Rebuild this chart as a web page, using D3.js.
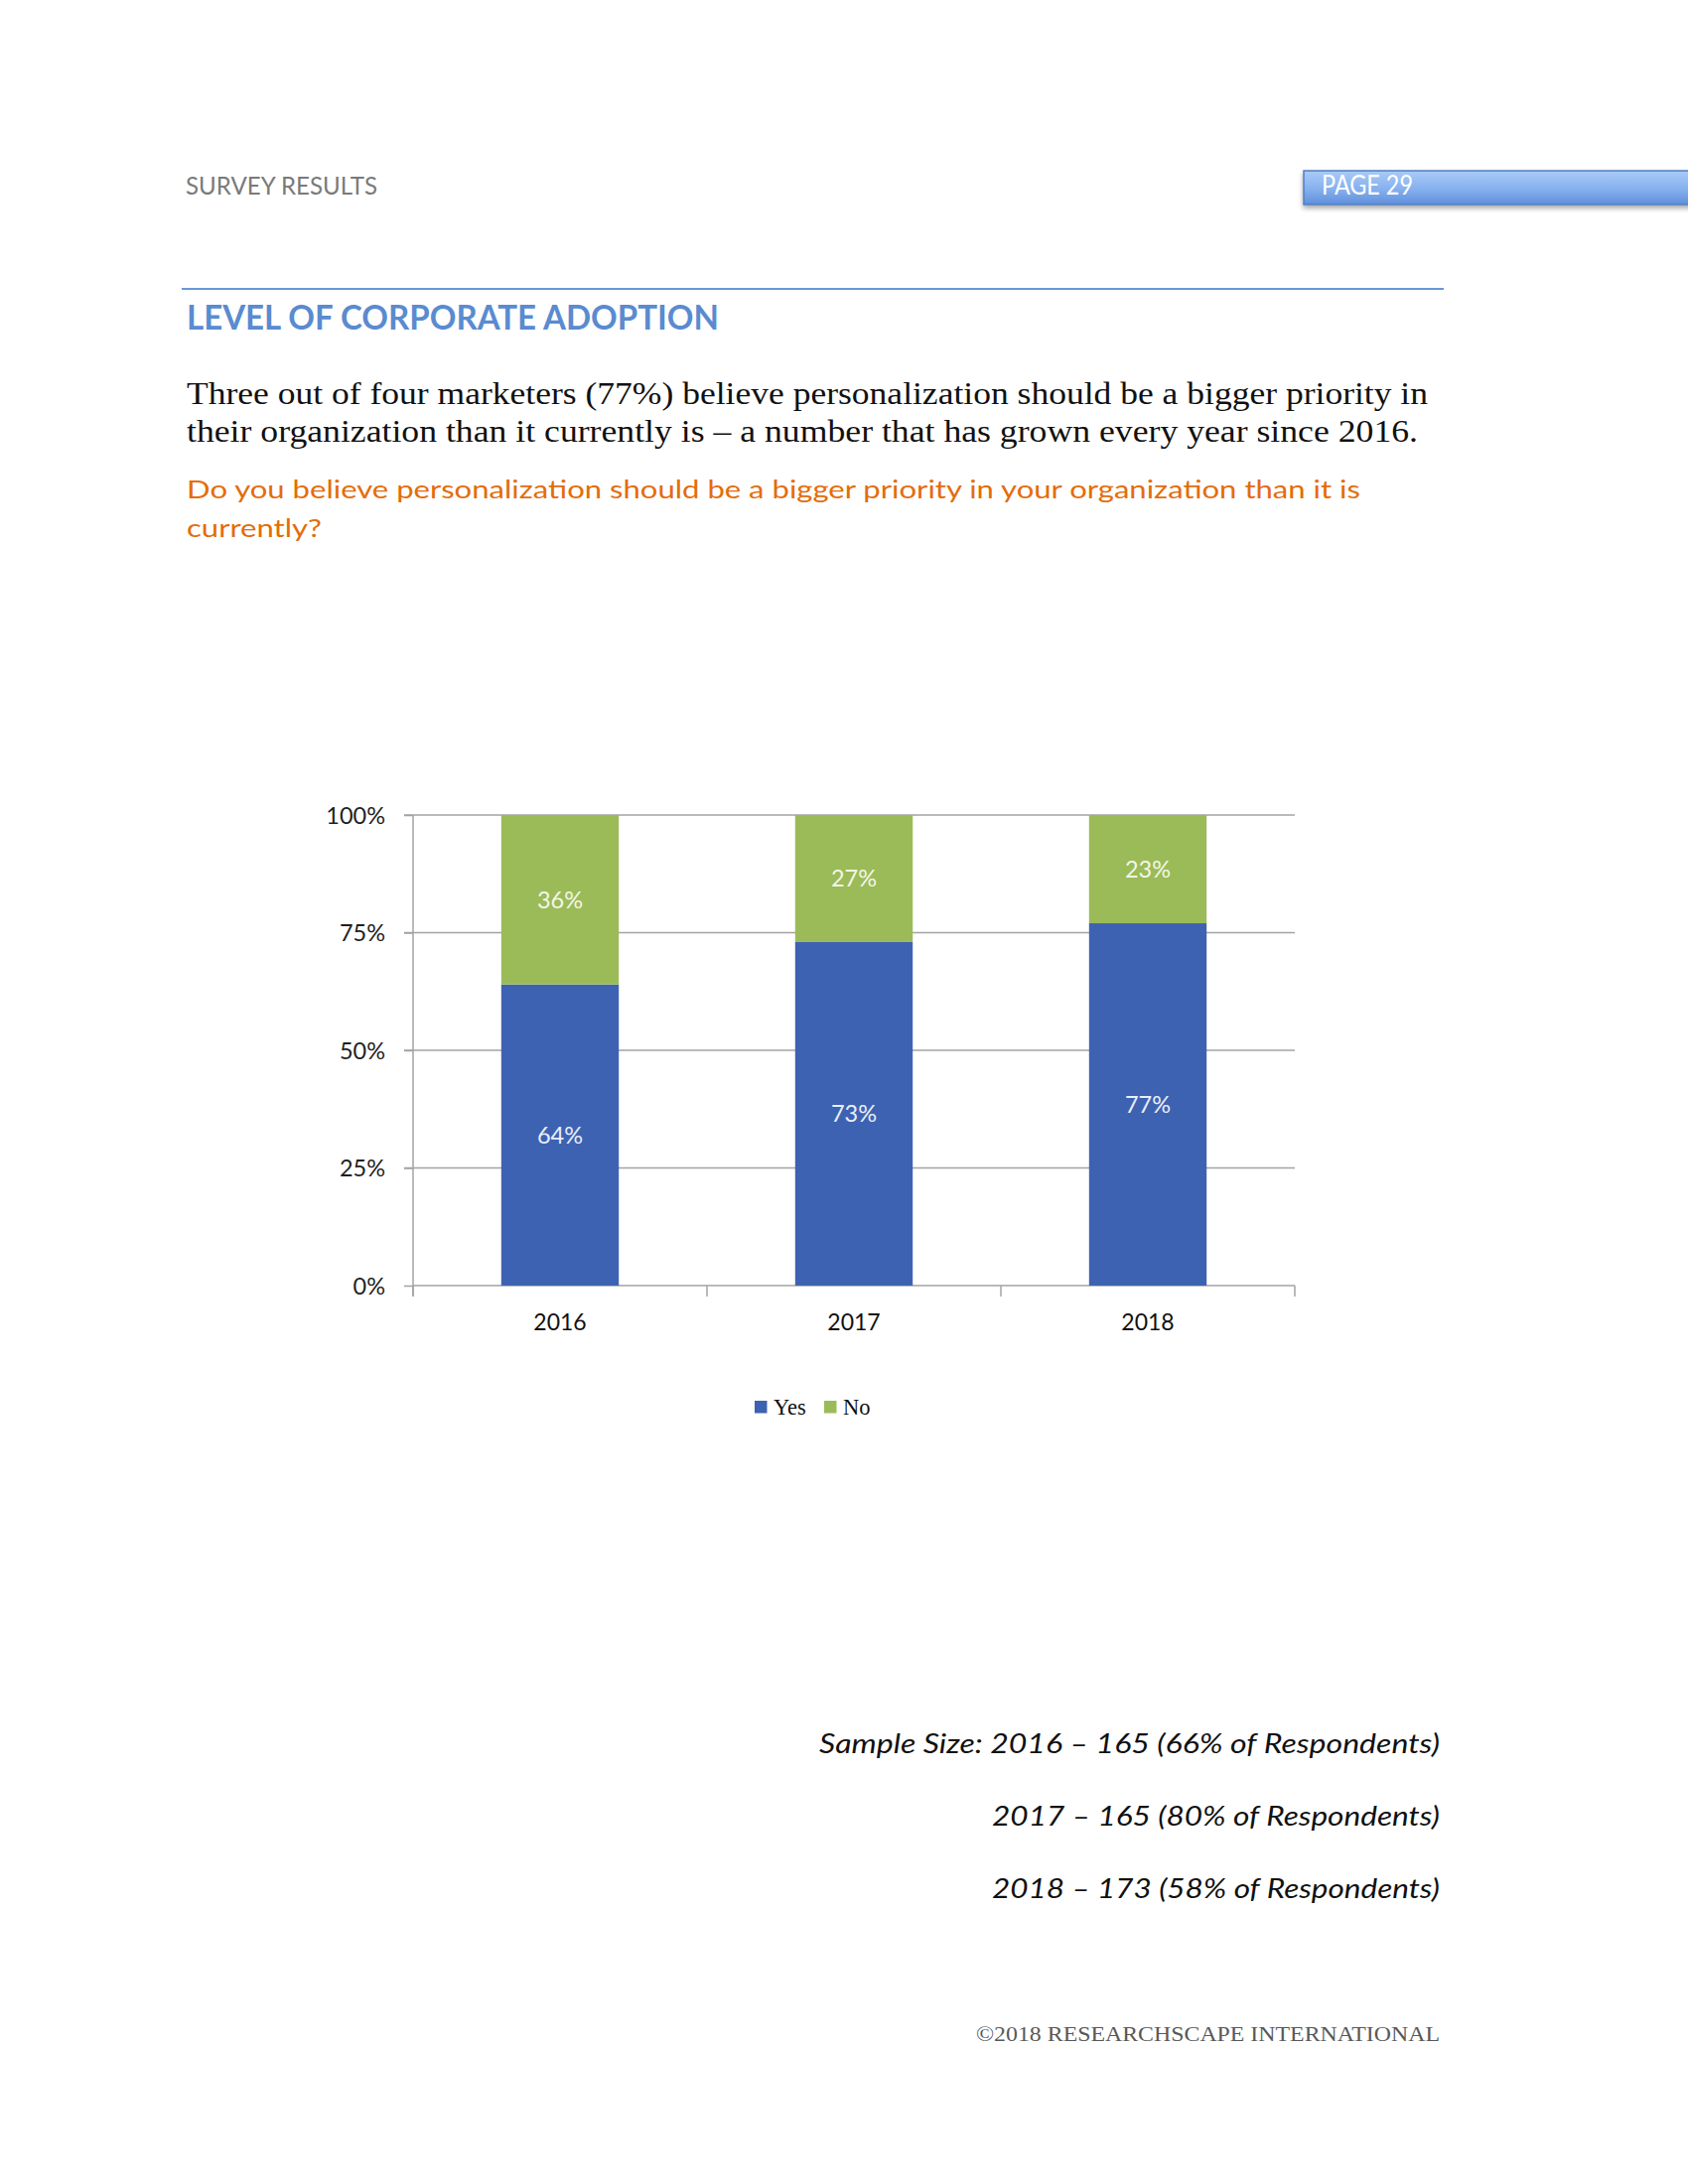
<!DOCTYPE html>
<html>
<head>
<meta charset="utf-8">
<script src="https://cdn.jsdelivr.net/npm/d3@7"></script>
<style>
  html, body { margin: 0; padding: 0; background: #ffffff; }
  svg { display: block; }
</style>
</head>
<body>
<svg id="page" width="1700" height="2200"></svg>
<script>
// ---------- DATA ----------
const years = ["2016", "2017", "2018"];
const yesValues = [64, 73, 77];
const noValues = [36, 27, 23];
const seriesNames = ["Yes", "No"];
const seriesColors = ["#3e62b2", "#9bbb59"];
const yTicks = [0, 25, 50, 75, 100];

const headerLeft = "SURVEY RESULTS";
const pageLabel = "PAGE 29";
const sectionTitle = "LEVEL OF CORPORATE ADOPTION";
const bodyLines = [
  "Three out of four marketers (77%) believe personalization should be a bigger priority in",
  "their organization than it currently is \u2013 a number that has grown every year since 2016."
];
const questionLines = [
  "Do you believe personalization should be a bigger priority in your organization than it is",
  "currently?"
];
const sampleLines = [
  "Sample Size: 2016 \u2013 165 (66% of Respondents)",
  "2017 \u2013 165 (80% of Respondents)",
  "2018 \u2013 173 (58% of Respondents)"
];
const copyright = "\u00A92018 RESEARCHSCAPE INTERNATIONAL";

// ---------- PAGE ----------
const svg = d3.select("#page");
const SANS = "Lato, 'Open Sans', sans-serif";
const SERIF = "'Liberation Serif', 'DejaVu Serif', serif";

const defs = svg.append("defs");
const grad = defs.append("linearGradient").attr("id", "pageGrad")
  .attr("x1", 0).attr("y1", 0).attr("x2", 0).attr("y2", 1);
grad.append("stop").attr("offset", "0%").attr("stop-color", "#a9cbf7");
grad.append("stop").attr("offset", "55%").attr("stop-color", "#86b0ee");
grad.append("stop").attr("offset", "100%").attr("stop-color", "#5f8fdb");
const shadow = defs.append("filter").attr("id", "shadow")
  .attr("x", "-5%").attr("y", "-30%").attr("width", "110%").attr("height", "180%");
shadow.append("feDropShadow").attr("dx", 0).attr("dy", 3).attr("stdDeviation", 2.5)
  .attr("flood-color", "#000").attr("flood-opacity", 0.35);

// header
svg.append("text").attr("x", 187).attr("y", 196)
  .attr("font-family", SANS).attr("font-size", 24.7).attr("fill", "#7a7a7a")
  .attr("textLength", 193).attr("lengthAdjust", "spacingAndGlyphs")
  .text(headerLeft);

svg.append("rect").attr("x", 1313).attr("y", 172).attr("width", 400).attr("height", 34)
  .attr("fill", "url(#pageGrad)").attr("stroke", "#4f7fc4").attr("stroke-width", 1.5)
  .attr("filter", "url(#shadow)");
svg.append("text").attr("x", 1331).attr("y", 196)
  .attr("font-family", SANS).attr("font-size", 26).attr("fill", "#ffffff")
  .attr("textLength", 92).attr("lengthAdjust", "spacingAndGlyphs")
  .text(pageLabel);

// rule + title
svg.append("line").attr("x1", 183).attr("x2", 1454).attr("y1", 291).attr("y2", 291)
  .attr("stroke", "#6a97d6").attr("stroke-width", 2);
svg.append("text").attr("x", 188).attr("y", 332)
  .attr("font-family", SANS).attr("font-weight", "bold").attr("font-size", 34.5)
  .attr("fill", "#5a8bd0")
  .attr("textLength", 536).attr("lengthAdjust", "spacingAndGlyphs")
  .text(sectionTitle);

// body text
const bodyWidths = [1250, 1240];
svg.selectAll("text.body").data(bodyLines).join("text").attr("class", "body")
  .attr("x", 188).attr("y", (d, i) => 406.7 + i * 38.5)
  .attr("font-family", SERIF).attr("font-size", 32).attr("fill", "#111111")
  .attr("textLength", (d, i) => bodyWidths[i]).attr("lengthAdjust", "spacingAndGlyphs")
  .text(d => d);

const qWidths = [1182, 136];
svg.selectAll("text.q").data(questionLines).join("text").attr("class", "q")
  .attr("x", 188).attr("y", (d, i) => 501.7 + i * 39)
  .attr("font-family", SANS).attr("font-size", 25.5).attr("fill", "#e46c0a")
  .attr("textLength", (d, i) => qWidths[i]).attr("lengthAdjust", "spacingAndGlyphs")
  .text(d => d);

// ---------- CHART ----------
const plotLeft = 416, plotRight = 1304, plotTop = 821, plotBottom = 1295;
const x = d3.scaleBand().domain(years).range([plotLeft, plotRight])
  .paddingInner(0.6).paddingOuter(0.3);
const y = d3.scaleLinear().domain([0, 100]).range([plotBottom, plotTop]);

const tableRows = years.map((yr, i) => ({ year: yr, Yes: yesValues[i], No: noValues[i] }));
const stacked = d3.stack().keys(seriesNames)(tableRows);

const gridColor = "#a3a3a3";
const chart = svg.append("g");

// gridlines
chart.append("g").selectAll("line").data(yTicks.filter(t => t > 0)).join("line")
  .attr("x1", plotLeft - 9).attr("x2", plotRight)
  .attr("y1", d => y(d)).attr("y2", d => y(d))
  .attr("stroke", gridColor).attr("stroke-width", 1.5);

// y axis
const yAxis = chart.append("g").attr("transform", `translate(${plotLeft},0)`)
  .call(d3.axisLeft(y).tickValues(yTicks).tickFormat(d => d + "%").tickSize(9).tickSizeOuter(0).tickPadding(19));
yAxis.select(".domain").attr("stroke", gridColor).attr("stroke-width", 1.5)
  .attr("d", `M0,${plotTop}V${plotBottom + 11}`);
yAxis.selectAll(".tick line").attr("stroke", gridColor).attr("stroke-width", 1.5);
yAxis.selectAll(".tick text").attr("font-family", SANS).attr("font-size", 23.5)
  .attr("fill", "#1f1f1f").attr("dy", "0.36em");

// x axis
const xAxis = chart.append("g").attr("transform", `translate(0,${plotBottom})`)
  .call(d3.axisBottom(x).tickSize(0).tickPadding(42));
xAxis.select(".domain").attr("stroke", gridColor).attr("stroke-width", 1.5)
  .attr("d", `M${plotLeft},0H${plotRight}`);
xAxis.selectAll(".tick text").attr("font-family", SANS).attr("font-size", 23)
  .attr("fill", "#111111").attr("dy", "0.12em");
const boundaries = years.map(d => x(d) - (x.step() - x.bandwidth()) / 2).concat([plotRight]);
xAxis.append("g").selectAll("line").data(boundaries).join("line")
  .attr("x1", d => d).attr("x2", d => d).attr("y1", 0).attr("y2", 11)
  .attr("stroke", gridColor).attr("stroke-width", 1.5);

// bars
const layers = chart.append("g").selectAll("g").data(stacked).join("g")
  .attr("fill", (d, i) => seriesColors[i]);
layers.selectAll("rect").data(d => d).join("rect")
  .attr("x", d => x(d.data.year))
  .attr("width", x.bandwidth())
  .attr("y", d => y(d[1]))
  .attr("height", d => y(d[0]) - y(d[1]));

// labels
const labelColors = ["#e9eef8", "#f3f6e6"];
stacked.forEach((layer, li) => {
  chart.append("g").selectAll("text").data(layer).join("text")
    .attr("x", d => x(d.data.year) + x.bandwidth() / 2)
    .attr("y", d => (y(d[0]) + y(d[1])) / 2)
    .attr("dy", "0.36em")
    .attr("text-anchor", "middle")
    .attr("font-family", SANS).attr("font-size", 23.5)
    .attr("fill", labelColors[li])
    .text(d => (d[1] - d[0]) + "%");
});

// legend
const legendX = [760, 830];
const legend = svg.append("g").selectAll("g").data(seriesNames).join("g")
  .attr("transform", (d, i) => `translate(${legendX[i]},1411)`);
legend.append("rect").attr("width", 12.5).attr("height", 12.5)
  .attr("fill", (d, i) => seriesColors[i]);
legend.append("text").attr("x", 19).attr("y", 13.5)
  .attr("font-family", SERIF).attr("font-size", 22.5).attr("fill", "#111")
  .text(d => d);

// sample size
svg.selectAll("text.sample").data(sampleLines).join("text").attr("class", "sample")
  .attr("x", 1450).attr("y", (d, i) => 1766 + i * 73)
  .attr("text-anchor", "end")
  .attr("font-family", SANS).attr("font-style", "italic").attr("font-size", 27)
  .attr("fill", "#111")
  .attr("textLength", (d, i) => [625, 451, 451][i]).attr("lengthAdjust", "spacingAndGlyphs")
  .text(d => d);

// copyright
svg.append("text").attr("x", 983).attr("y", 2056)
  .attr("font-family", SERIF).attr("font-size", 22).attr("fill", "#595959")
  .attr("textLength", 467).attr("lengthAdjust", "spacingAndGlyphs")
  .text(copyright);
</script>
</body>
</html>
